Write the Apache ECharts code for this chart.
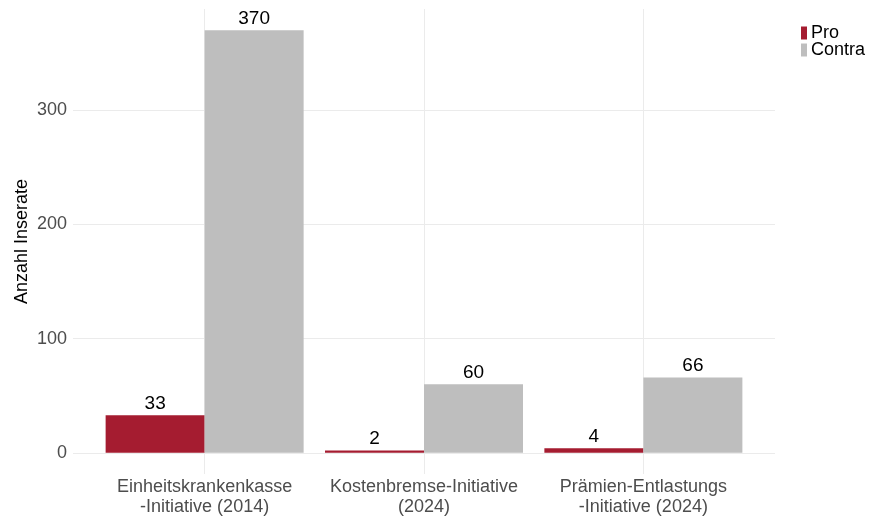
<!DOCTYPE html>
<html><head><meta charset="utf-8">
<script src="https://cdn.jsdelivr.net/npm/echarts@6/dist/echarts.min.js"></script>
<style>html,body{margin:0;padding:0;background:#fff}#c{width:872px;height:517px}</style>
</head><body><div id="c"></div>
<script>
const categories = ['Einheitskrankenkasse\n-Initiative (2014)', 'Kostenbremse-Initiative\n(2024)', 'Prämien-Entlastungs\n-Initiative (2024)'];
const proValues = [33, 2, 4];
const contraValues = [370, 60, 66];
const yTicks = [0, 100, 200, 300];
const seriesNames = ['Pro', 'Contra'];

const FONT = '"Liberation Sans", Arial, sans-serif';
const chart = echarts.init(document.getElementById('c'), null, {renderer: 'canvas'});
const pos = categories.map((c, i) => i + 1);
const toPairs = arr => arr.map((v, i) => [pos[i], v]);
const lbl = {show: true, position: 'top', distance: 2, color: '#000', fontSize: 19, fontFamily: FONT};
chart.setOption({
  animation: false,
  grid: {left: 73, right: 97, top: 9, bottom: 43},
  legend: {
    orient: 'vertical', left: 796, top: 19, itemWidth: 6, itemHeight: 13, itemGap: -1,
    icon: 'rect', textStyle: {fontSize: 18, color: '#000', fontFamily: FONT, padding: [0,0,0,-1]},
    data: seriesNames
  },
  xAxis: {
    type: 'value', min: 0.4, max: 3.6,
    axisLine: {show: false}, axisTick: {show: false, customValues: pos},
    splitLine: {show: true, lineStyle: {color: '#ebebeb', width: 1}},
    axisLabel: {customValues: pos, margin: 3, color: '#4d4d4d', fontSize: 18, lineHeight: 20, fontFamily: FONT,
      formatter: v => categories[Math.round(v) - 1] || ''}
  },
  yAxis: {
    type: 'value', min: -18.5, max: 388.5,
    name: 'Anzahl Inserate', nameLocation: 'middle', nameGap: 42, nameMoveOverlap: false,
    nameTextStyle: {fontSize: 18, color: '#000', fontFamily: FONT},
    axisLine: {show: false}, axisTick: {show: false, customValues: yTicks},
    splitLine: {show: true, lineStyle: {color: '#ebebeb', width: 1}},
    axisLabel: {customValues: yTicks, margin: 6, color: '#4d4d4d', fontSize: 18, fontFamily: FONT}
  },
  series: [
    {name: seriesNames[0], type: 'bar', data: toPairs(proValues), barWidth: 99, barGap: '0%',
     itemStyle: {color: '#A51C30'}, label: lbl},
    {name: seriesNames[1], type: 'bar', data: toPairs(contraValues), barWidth: 99, barGap: '0%',
     itemStyle: {color: '#BEBEBE'}, label: lbl}
  ]
});
</script></body></html>
